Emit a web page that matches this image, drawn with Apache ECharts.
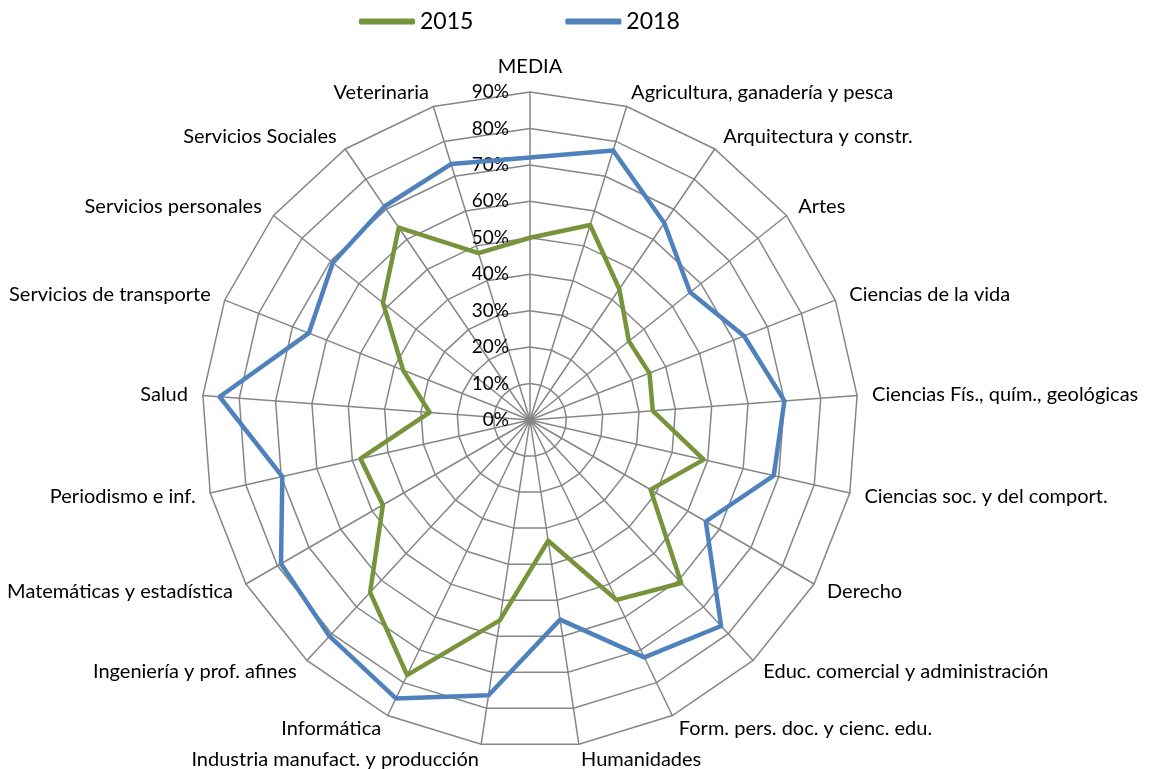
<!DOCTYPE html>
<html>
<head>
<meta charset="utf-8">
<script src="https://cdn.jsdelivr.net/npm/echarts@6/dist/echarts.min.js"></script>
<style>
  html, body { margin: 0; padding: 0; background: #fff; }
  #chart { width: 1150px; height: 769px; }
</style>
</head>
<body>
<div id="chart"></div>
<script>
// categories in clockwise order starting at the top
var categories = ["MEDIA", "Agricultura, ganadería y pesca", "Arquitectura y constr.", "Artes",
  "Ciencias de la vida", "Ciencias Fís., quím., geológicas", "Ciencias soc. y del comport.",
  "Derecho", "Educ. comercial y administración", "Form. pers. doc. y cienc. edu.", "Humanidades",
  "Industria manufact. y producción", "Informática", "Ingeniería y prof. afines",
  "Matemáticas y estadística", "Periodismo e inf.", "Salud", "Servicios de transporte",
  "Servicios personales", "Servicios Sociales", "Veterinaria"];
var values2015 = [50, 56, 43.5, 34.7, 35.2, 33.8, 48.9, 38.2, 61, 54.8, 33.5, 55.6, 77.7, 64.5,
  46.6, 47.7, 27.6, 37.4, 51.6, 63.9, 47.9];
var values2018 = [72, 77.4, 65.4, 56.2, 63.1, 70, 68.6, 55.7, 77.1, 72.3, 55.4, 76.4, 84.8, 80.9,
  78.9, 69.7, 85.4, 65.2, 69.2, 70.9, 73.5];
var seriesNames = ["2015", "2018"];
var axisMax = 90;

// echarts lays radar indicators out counterclockwise, so keep the first and reverse the rest
function ccw(arr) {
  return [arr[0]].concat(arr.slice(1).reverse());
}

var font = "Lato, 'Open Sans', sans-serif";
var gridColor = "#868686";

var myChart = echarts.init(document.getElementById("chart"));
var option = {
  animation: false,
  legend: {
    top: 5,
    left: 354,
    itemWidth: 56,
    itemHeight: 6,
    itemGap: 92,
    icon: "roundRect",
    textStyle: { fontSize: 23, color: "#000", fontFamily: font, padding: [0, 0, 0, 0] },
    data: seriesNames
  },
  radar: [
    {
      center: [530, 420],
      radius: 328,
      startAngle: 90,
      shape: "polygon",
      splitNumber: 9,
      axisName: { color: "#000", fontSize: 20, fontFamily: font },
      nameGap: 15,
      indicator: ccw(categories).map(function (c) { return { name: c, min: 0, max: axisMax }; }),
      axisLine: { lineStyle: { color: gridColor, width: 1.5 } },
      splitLine: { lineStyle: { color: gridColor, width: 1.5 } },
      splitArea: { show: false },
      axisTick: { show: false },
      axisLabel: { show: false }
    },
    {
      // single axis used only to carry the percent tick labels
      center: [530, 420],
      radius: 328,
      startAngle: 90,
      splitNumber: 9,
      indicator: [{ name: "", min: 0, max: axisMax }],
      axisName: { show: false },
      axisLine: { show: false },
      splitLine: { show: false },
      splitArea: { show: false },
      axisTick: { show: false },
      axisLabel: {
        show: true,
        color: "#000",
        fontSize: 19,
        fontFamily: font,
        margin: 21,
        formatter: function (v) { return v + "%"; }
      }
    }
  ],
  series: [
    {
      type: "radar",
      radarIndex: 0,
      symbol: "none",
      data: [
        { name: seriesNames[0], value: ccw(values2015),
          lineStyle: { color: "#77933C", width: 4.5 }, itemStyle: { color: "#77933C" } },
        { name: seriesNames[1], value: ccw(values2018),
          lineStyle: { color: "#4F81BD", width: 4.5 }, itemStyle: { color: "#4F81BD" } }
      ]
    }
  ]
};
myChart.setOption(option);
</script>
</body>
</html>
